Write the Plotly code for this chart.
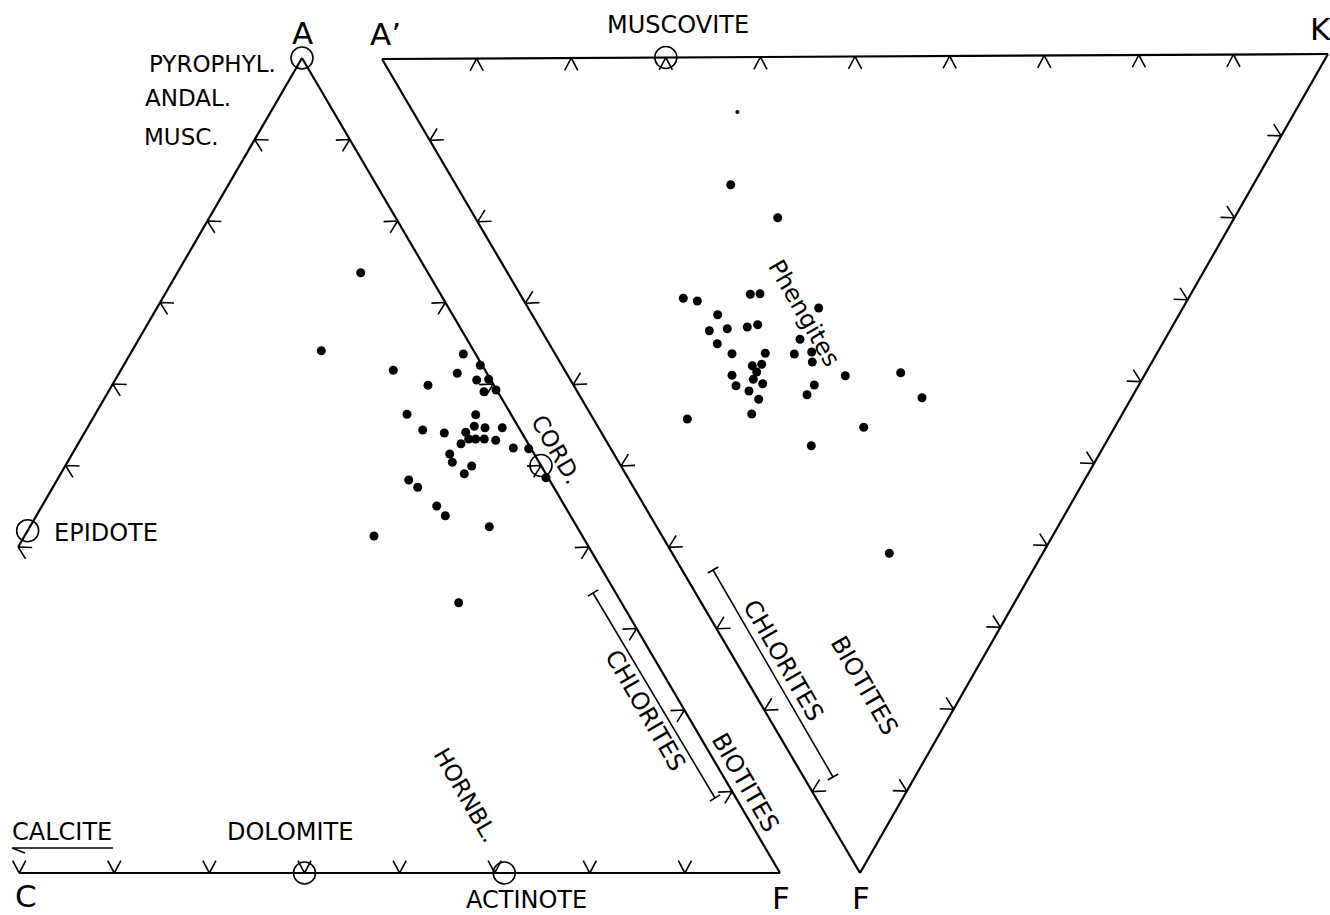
import numpy as np
import plotly.graph_objects as go

# ---------------- data ----------------
# triangle vertices (diagram coordinates, y grows downward)
acf_vertices = {"A": (302, 58), "C": (-171, 873), "F": (780, 873)}
akf_vertices = {"A'": (382, 59), "K": (1328, 54), "F": (860, 873)}

# analyses plotted in the ACF triangle
acf_x = [360.7, 321.3, 463.3, 393.3, 480.3, 457.3, 476.7, 488.7, 428.0, 496.0,
         484.0, 407.0, 475.7, 422.7, 444.3, 474.3, 485.0, 502.3, 465.7, 468.7,
         475.7, 484.3, 495.7, 461.0, 513.3, 528.7, 449.7, 452.3, 471.7, 464.3,
         546.0, 408.7, 417.7, 436.7, 445.3, 489.3, 374.0, 458.7]
acf_y = [272.7, 350.7, 354.0, 370.3, 365.3, 373.3, 380.0, 379.3, 385.3, 390.0,
         391.7, 414.3, 414.7, 430.0, 433.0, 426.3, 427.7, 427.7, 432.3, 439.0,
         439.0, 439.0, 440.3, 443.7, 448.0, 448.7, 454.0, 462.3, 466.0, 473.7,
         477.7, 480.0, 487.3, 506.0, 515.7, 526.7, 536.0, 602.7]

# analyses plotted in the A'KF triangle
akf_x = [730.7, 777.7, 683.3, 697.3, 750.3, 760.0, 818.7, 717.7, 709.3, 727.3,
         747.3, 757.7, 717.3, 800.0, 732.0, 765.3, 794.3, 811.7, 812.3, 752.3,
         761.7, 756.7, 732.0, 753.3, 762.7, 736.0, 749.0, 758.7, 814.3, 845.3,
         900.7, 807.0, 922.0, 751.7, 687.3, 863.7, 811.3, 889.3]
akf_y = [184.7, 217.7, 298.3, 301.0, 294.3, 293.7, 308.0, 314.7, 330.7, 328.7,
         327.0, 324.7, 343.7, 339.3, 353.7, 353.3, 354.0, 352.0, 362.0, 365.7,
         364.3, 372.0, 375.3, 379.3, 383.7, 385.7, 391.0, 399.3, 385.0, 375.7,
         372.7, 394.7, 397.7, 414.0, 419.0, 427.3, 445.7, 553.3]
akf_small_x = [737.3]
akf_small_y = [112.0]

# reference minerals: (label, edge start, edge end, fraction along edge)
minerals = [
    ("A", "A", "F", 0.0),
    ("EPIDOTE", "A", "C", 0.58),
    ("DOLOMITE", "C", "F", 0.5),
    ("ACTINOTE", "C", "F", 0.71),
    ("CORD.", "A", "F", 0.5),
]
akf_minerals = [("MUSCOVITE", "A'", "K", 0.3)]

# chlorite composition ranges (bracket end points)
chlorite_left = [(593, 593), (715, 798)]
chlorite_right = [(713, 570), (833, 777)]
calcite_arrow = [(113, 848), (12, 848)]

# tick fractions (10 % graduations) drawn on each edge
acf_edges = [("A", "C", 0.0, 0.6, [0.1, 0.2, 0.3, 0.4, 0.5, 0.6]),
             ("C", "F", 0.2, 1.0, [0.2, 0.3, 0.4, 0.5, 0.6, 0.7, 0.8, 0.9]),
             ("A", "F", 0.0, 1.0, [0.1, 0.2, 0.3, 0.4, 0.5, 0.6, 0.7, 0.8, 0.9])]
akf_edges = [("A'", "K", 0.0, 1.0, [0.1, 0.2, 0.3, 0.4, 0.5, 0.6, 0.7, 0.8, 0.9]),
             ("K", "F", 0.0, 1.0, [0.1, 0.2, 0.3, 0.4, 0.5, 0.6, 0.7, 0.8, 0.9]),
             ("A'", "F", 0.0, 1.0, [0.1, 0.2, 0.3, 0.4, 0.5, 0.6, 0.7, 0.8, 0.9])]

# ---------------- helpers ----------------
def lerp(p, q, t):
    return (p[0] + (q[0] - p[0]) * t, p[1] + (q[1] - p[1]) * t)


def rot(v, ang):
    c, s = np.cos(ang), np.sin(ang)
    return (v[0] * c - v[1] * s, v[0] * s + v[1] * c)


def build(vertices, edges):
    ex, ey, tx, ty = [], [], [], []
    cx = np.mean([v[0] for v in vertices.values()])
    cy = np.mean([v[1] for v in vertices.values()])
    for a, b, t0, t1, ticks in edges:
        p, q = vertices[a], vertices[b]
        s, e = lerp(p, q, t0), lerp(p, q, t1)
        ex += [s[0], e[0], None]
        ey += [s[1], e[1], None]
        d = np.array([q[0] - p[0], q[1] - p[1]], float)
        d /= np.linalg.norm(d)
        n = np.array([-d[1], d[0]])
        mid = lerp(p, q, 0.5)
        if (cx - mid[0]) * n[0] + (cy - mid[1]) * n[1] < 0:
            n = -n
        for t in ticks:
            P = lerp(p, q, t)
            a1 = rot(n, np.radians(28))
            a2 = rot(n, np.radians(-28))
            L = 14
            tx += [P[0] + L * a1[0], P[0], P[0] + L * a2[0], None]
            ty += [P[1] + L * a1[1], P[1], P[1] + L * a2[1], None]
    return ex, ey, tx, ty


fig = go.Figure()
for verts, edges in ((acf_vertices, acf_edges), (akf_vertices, akf_edges)):
    ex, ey, tx, ty = build(verts, edges)
    fig.add_trace(go.Scatter(x=ex, y=ey, mode="lines",
                             line=dict(color="black", width=2.2), hoverinfo="skip"))
    fig.add_trace(go.Scatter(x=tx, y=ty, mode="lines",
                             line=dict(color="black", width=1.6), hoverinfo="skip"))

# brackets
bx, by = [], []
for (p, q) in (chlorite_left, chlorite_right):
    bx += [p[0], q[0], None]
    by += [p[1], q[1], None]
    d = np.array([q[0] - p[0], q[1] - p[1]], float)
    d /= np.linalg.norm(d)
    n = np.array([-d[1], d[0]]) * 6
    for P in (p, q):
        bx += [P[0] - n[0], P[0] + n[0], None]
        by += [P[1] - n[1], P[1] + n[1], None]
fig.add_trace(go.Scatter(x=bx, y=by, mode="lines",
                         line=dict(color="black", width=1.6), hoverinfo="skip"))

# calcite arrow
(ax0, ay0), (ax1, ay1) = calcite_arrow
fig.add_trace(go.Scatter(x=[ax0, ax1, ax1 + 13, None], y=[ay0, ay1, ay1 + 5, None],
                         mode="lines", line=dict(color="black", width=1.6),
                         hoverinfo="skip"))

# mineral circles
mx, my = [], []
for name, a, b, t in minerals:
    P = lerp(acf_vertices[a], acf_vertices[b], t)
    mx.append(P[0]); my.append(P[1])
for name, a, b, t in akf_minerals:
    P = lerp(akf_vertices[a], akf_vertices[b], t)
    mx.append(P[0]); my.append(P[1])
fig.add_trace(go.Scatter(x=mx, y=my, mode="markers",
                         marker=dict(symbol="circle-open", size=22, color="black",
                                     line=dict(color="black", width=1.6)),
                         hoverinfo="skip"))

# analyses
fig.add_trace(go.Scatter(x=acf_x, y=acf_y, mode="markers",
                         marker=dict(color="black", size=9)))
fig.add_trace(go.Scatter(x=akf_x, y=akf_y, mode="markers",
                         marker=dict(color="black", size=9)))
fig.add_trace(go.Scatter(x=akf_small_x, y=akf_small_y, mode="markers",
                         marker=dict(color="black", size=4)))

# ---------------- labels ----------------
FONT = "DejaVu Sans"
labels = [
    ("A", 302, 33, 31, 0), ("A\u2019", 385, 34, 31, 0), ("K", 1320, 29, 31, 0),
    ("C", 26, 896, 31, 0), ("F", 781, 898, 31, 0), ("F", 861, 898, 31, 0),
    ("MUSCOVITE", 678, 25, 24, 0), ("PYROPHYL.", 212, 64, 23, 0),
    ("ANDAL.", 188, 98, 23, 0), ("MUSC.", 181, 137, 23, 0),
    ("EPIDOTE", 106, 533, 24, 0), ("CALCITE", 62, 832, 24, 0),
    ("DOLOMITE", 290, 832, 24, 0), ("ACTINOTE", 526, 900, 24, 0),
    ("HORNBL.", 466, 795, 23, 60), ("CORD.", 556, 449, 23, 60),
    ("CHLORITES", 645, 710, 24, 60), ("BIOTITES", 745, 782, 24, 60),
    ("CHLORITES", 783, 660, 24, 60), ("BIOTITES", 864, 685, 24, 60),
    ("Phengites", 804, 313, 24, 60),
]
for text, x, y, size, ang in labels:
    fig.add_annotation(x=x, y=y, text=text, showarrow=False, textangle=ang,
                       xanchor="center", yanchor="middle",
                       font=dict(family=FONT, size=size, color="black"))

fig.update_layout(
    width=1330, height=915, margin=dict(l=0, r=0, t=0, b=0),
    paper_bgcolor="white", plot_bgcolor="white", showlegend=False,
    xaxis=dict(range=[0, 1330], visible=False, fixedrange=True),
    yaxis=dict(range=[915, 0], visible=False, fixedrange=True),
)
fig.write_html("out.html")
